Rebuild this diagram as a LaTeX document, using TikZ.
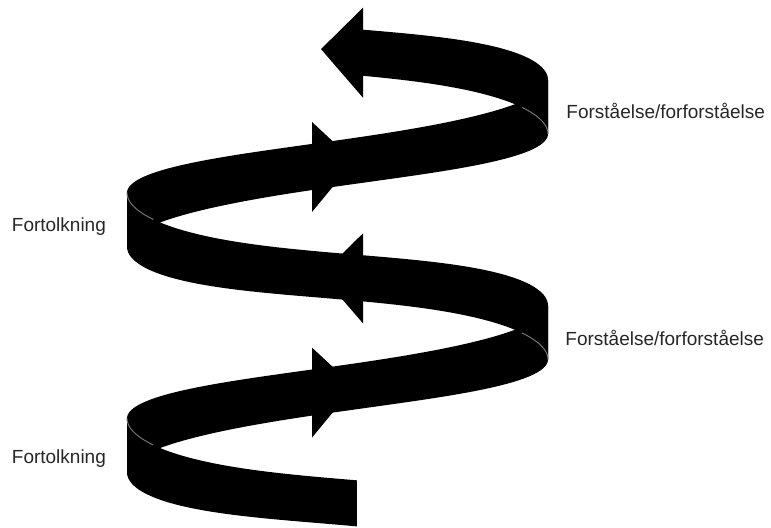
\documentclass[tikz,border=0pt]{standalone}
\usepackage{fontspec}
\setsansfont{Liberation Sans}

\pgfmathdeclarefunction{spirx}{1}{\pgfmathparse{337.5-210.5*cos(#1 r)}}
\pgfmathdeclarefunction{spiry}{3}{\pgfmathparse{505-35.9*(#1-4.62)-#2*sin(2*#1 r)+#3*(23+4*cos(#1 r)*cos(#1 r))}}

\newcommand\band[3]{%
  \fill[ribbon] plot[variable=\t, samples=60, domain=#1:#2] ({spirx(\t)},{spiry(\t,#3,-1)})
    -- plot[variable=\t, samples=60, domain=#2:#1] ({spirx(\t)},{spiry(\t,#3,1)}) -- cycle;}
\newcommand\fold[4]{%
  \draw[crease] plot[variable=\t, samples=20, domain=#1:#2] ({spirx(\t)},{spiry(\t,#3,#4)});}

\begin{document}
\begin{tikzpicture}[x=0.5pt, y=-0.5pt,
  ribbon/.style = {fill=black},
  crease/.style = {draw=black!55, line width=.5pt},
  lbl/.style = {font=\sffamily\fontsize{9.5}{11}\selectfont, text=black!85, inner sep=0pt, anchor=base west}]
  \useasboundingbox (0,0) rectangle (771,527);
  \band{6.2832}{9.4248}{3}
  \band{12.5664}{15.7080}{3}
  \band{4.62}{6.2832}{9}
  \band{9.4248}{12.5664}{9}
  \band{15.7080}{17.22}{9}
  \fold{5.78}{6.2832}{9}{-1}
  \fold{12.06}{12.5664}{9}{-1}
  \fold{9.4248}{9.93}{9}{1}
  \fold{15.7080}{16.21}{9}{1}
  \fill[ribbon] (312,347.6) -- (354,386.6) -- (312,437.6) -- cycle;
  \fill[ribbon] (363,233.3) -- (321,274.7) -- (363,323.3) -- cycle;
  \fill[ribbon] (312,122) -- (354,161) -- (312,212) -- cycle;
  \fill[ribbon] (363,7.7) -- (321,49.1) -- (363,97.7) -- cycle;
  \node[lbl] (forst1) at (566,118) {Forståelse/forforståelse};
  \node[lbl] (forst2) at (565,345) {Forståelse/forforståelse};
  \node[lbl] (fort1) at (11.5,231) {Fortolkning};
  \node[lbl] (fort2) at (11.5,463) {Fortolkning};
\end{tikzpicture}
\end{document}
